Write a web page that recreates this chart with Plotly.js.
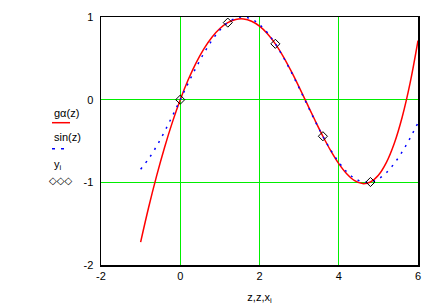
<!DOCTYPE html>
<html>
<head>
<meta charset="utf-8">
<script src="https://cdn.plot.ly/plotly-3.0.1.min.js"></script>
<style>
html,body{margin:0;padding:0;background:#fff;}
#chart{width:423px;height:307px;}
</style>
</head>
<body>
<div id="chart"></div>
<script>
// z grid (step 0.2 from -1 to 6)
const z = [-1.0,-0.8,-0.6,-0.4,-0.2,0.0,0.2,0.4,0.6,0.8,1.0,1.2,1.4,1.6,1.8,2.0,2.2,2.4,2.6,2.8,3.0,3.2,3.4,3.6,3.8,4.0,4.2,4.4,4.6,4.8,5.0,5.2,5.4,5.6,5.8,6.0];
// g(z): spline curve through the data points
const gz = [-1.7226,-1.3077,-0.9282,-0.5839,-0.2746,0.0,0.2401,0.4460,0.6179,0.7560,0.8607,0.9320,0.9704,0.9760,0.9490,0.8898,0.7985,0.6755,0.5221,0.3451,0.1522,-0.0486,-0.2495,-0.4425,-0.6199,-0.7737,-0.8962,-0.9793,-1.0152,-0.9962,-0.9142,-0.7614,-0.5300,-0.2120,0.2003,0.7149];
// sin(z)
const sinz = [-0.8415,-0.7174,-0.5646,-0.3894,-0.1987,0.0,0.1987,0.3894,0.5646,0.7174,0.8415,0.9320,0.9854,0.9996,0.9738,0.9093,0.8085,0.6755,0.5155,0.3350,0.1411,-0.0584,-0.2555,-0.4425,-0.6119,-0.7568,-0.8716,-0.9516,-0.9937,-0.9962,-0.9589,-0.8835,-0.7728,-0.6313,-0.4646,-0.2794];
// data points
const xi = [0.0,1.2,2.4,3.6,4.8];
const yi = [0.0,0.9320,0.6755,-0.4425,-0.9962];
// ticks
const xTicks = [-2,0,2,4,6];
const yTicks = [-2,-1,0,1];

const FONT = 'Liberation Sans, Arial, sans-serif';
const GREEN = '#00ee00';

const traces = [
  {x:z, y:gz, type:'scatter', mode:'lines', line:{color:'#ff0000', width:1.5, shape:'spline'}, hoverinfo:'skip'},
  {x:z, y:sinz, type:'scatter', mode:'lines', line:{color:'#0000ff', width:1.5, dash:'2px,6px', shape:'spline'}, hoverinfo:'skip'},
  {x:xi, y:yi, type:'scatter', mode:'markers', marker:{symbol:'diamond-open', size:7, color:'#000000', line:{width:1, color:'#000000'}}, hoverinfo:'skip'}
];

function px2xp(px){ return (px-101)/317; }
function py2yp(py){ return 1-(py-17)/248; }

const layout = {
  width:423, height:307,
  margin:{l:101, r:5, t:17, b:42, pad:0},
  paper_bgcolor:'#ffffff', plot_bgcolor:'#ffffff',
  showlegend:false,
  font:{family:FONT, size:11, color:'#000000'},
  xaxis:{
    range:[-2,6], tickvals:xTicks, ticktext:xTicks.map(String),
    showgrid:true, gridcolor:GREEN, gridwidth:1, zeroline:false,
    showline:true, linecolor:'#000000', linewidth:1.5, mirror:true,
    ticks:'', ticklabelstandoff:0,
    tickfont:{family:FONT, size:11, color:'#000'},
    title:{text:'z,z,x<sub>i</sub>', font:{family:FONT, size:11, color:'#000'}, standoff:12}
  },
  yaxis:{
    range:[-2,1], tickvals:yTicks, ticktext:yTicks.map(String),
    showgrid:true, gridcolor:GREEN, gridwidth:1, zeroline:false,
    showline:true, linecolor:'#000000', linewidth:1.5, mirror:true,
    ticks:'', ticklabelstandoff:4,
    tickfont:{family:FONT, size:11, color:'#000'}
  },
  annotations:[
    {xref:'paper', yref:'paper', x:px2xp(52), y:py2yp(113), xanchor:'left', yanchor:'middle', text:'gα(z)', showarrow:false, font:{family:FONT, size:11, color:'#000'}},
    {xref:'paper', yref:'paper', x:px2xp(52), y:py2yp(137), xanchor:'left', yanchor:'middle', text:'sin(z)', showarrow:false, font:{family:FONT, size:11, color:'#000'}},
    {xref:'paper', yref:'paper', x:px2xp(52), y:py2yp(165), xanchor:'left', yanchor:'middle', text:'y<sub>i</sub>', showarrow:false, font:{family:FONT, size:11, color:'#000'}},
    {xref:'paper', yref:'paper', x:px2xp(47), y:py2yp(180), xanchor:'left', yanchor:'middle', text:'◇◇◇', showarrow:false, font:{family:'DejaVu Sans, sans-serif', size:10, color:'#000'}}
  ],
  shapes:[
    {type:'line', xref:'paper', yref:'paper', x0:px2xp(52), x1:px2xp(70), y0:py2yp(122.7), y1:py2yp(122.7), line:{color:'#ff0000', width:1.5}},
    {type:'line', xref:'paper', yref:'paper', x0:px2xp(52), x1:px2xp(64), y0:py2yp(148.7), y1:py2yp(148.7), line:{color:'#0000ff', width:1.5, dash:'3px,6px'}}
  ]
};

Plotly.newPlot('chart', traces, layout, {staticPlot:true, displayModeBar:false});
</script>
</body>
</html>
